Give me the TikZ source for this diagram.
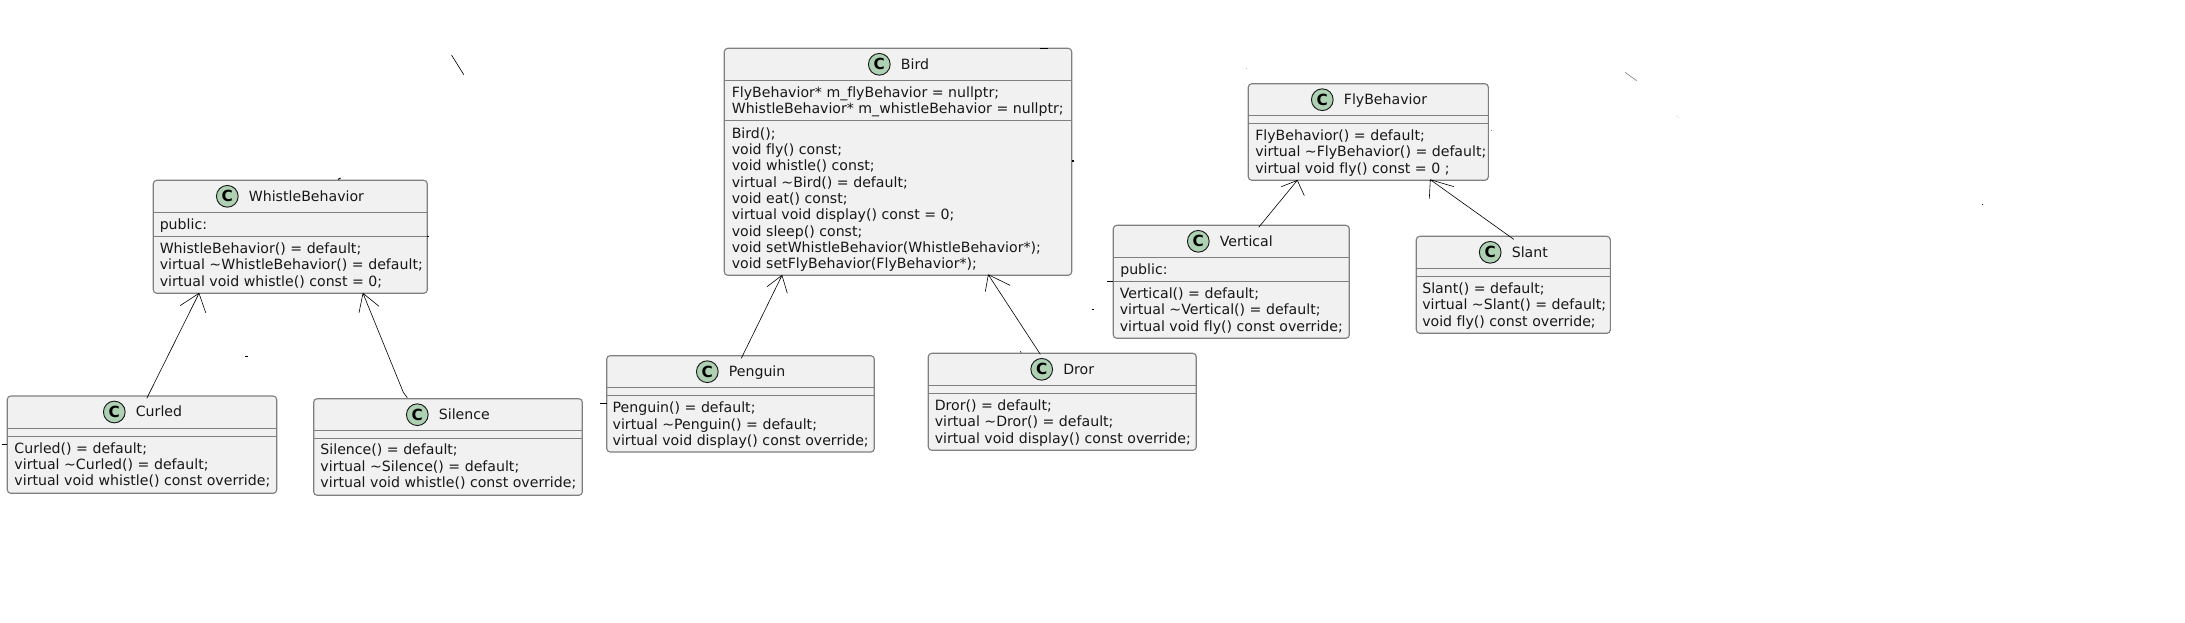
\documentclass[tikz,border=0pt]{standalone}
\usepackage{fontspec}
\setmainfont[Ligatures=NoCommon]{DejaVu Sans}
\definecolor{boxfill}{HTML}{F1F1F1}
\definecolor{boxline}{HTML}{7F7F7F}
\definecolor{spot}{HTML}{ADD1B2}
\definecolor{ink}{HTML}{181818}
\newcommand{\mstrut}{\rule{0pt}{10pt}}
\tikzset{
 x=0.75pt,y=-0.75pt,
 umlbox/.style={draw=boxline,fill=boxfill,line width=0.85pt,rounded corners=2.6pt,outer sep=0pt,inner sep=0pt,anchor=north west},
 sepline/.style={draw=boxline,line width=0.8pt},
 spotc/.style={circle,draw=ink,fill=spot,line width=0.7pt,minimum size=16.3pt,inner sep=0pt,font=\fontsize{11.5pt}{12pt}\selectfont\bfseries},
 ttl/.style={anchor=base west,inner sep=0pt,text=ink,font=\fontsize{10.6pt}{12pt}\selectfont},
 mem/.style={anchor=north west,align=left,inner sep=0pt,text=ink,font=\fontsize{10.6pt}{12.22pt}\selectfont},
 rel/.style={draw=black,line width=0.45pt},
 bit/.style={draw=black,line width=0.45pt},
}
% name x1 y1 x2 y2 line1 line2 spotx title
\newcommand{\umlclass}[9]{%
 \node[umlbox,minimum width={(#4-#2)*0.75pt},minimum height={(#5-#3)*0.75pt}] (#1) at (#2,#3) {};
 \draw[sepline] (#2,#6) -- (#4,#6);
 \draw[sepline] (#2,#7) -- (#4,#7);
 \node[spotc] (#1s) at (#8,{#3+16}) {C};
 \node[ttl] (#1t) at ({#8+21.3},{#3+20.8}) {#9};
}
% name x y text
\newcommand{\umlmem}[4]{\node[mem] (#1) at (#2,#3) {#4};}
\newcommand{\tld}{\textasciitilde}
\begin{document}
\begin{tikzpicture}
\useasboundingbox (0,0) rectangle (2185,622);
\umlclass{wb}{153.3}{180.3}{427.3}{293.3}{212.3}{236.3}{227.3}{WhistleBehavior}
\umlmem{wbf}{159.5}{216}{\mstrut public:}
\umlmem{wbm}{159.5}{240}{\mstrut WhistleBehavior() = default;\\virtual \tld WhistleBehavior() = default;\\virtual void whistle() const = 0;}
\umlclass{curled}{7.3}{396}{276.7}{493.3}{428.3}{436.3}{114.3}{Curled}
\umlmem{curledm}{14.2}{439.7}{\mstrut Curled() = default;\\virtual \tld Curled() = default;\\virtual void whistle() const override;}
\umlclass{silence}{313.7}{398.7}{582.3}{495.3}{430.3}{438.3}{417.3}{Silence}
\umlmem{silencem}{320.2}{441.2}{\mstrut Silence() = default;\\virtual \tld Silence() = default;\\virtual void whistle() const override;}
\umlclass{bird}{724.3}{48.3}{1071.7}{275.3}{80.7}{120.3}{879.3}{Bird}
\umlmem{birdf}{731.5}{84}{\mstrut FlyBehavior* m\_flyBehavior = nullptr;\\WhistleBehavior* m\_whistleBehavior = nullptr;}
\umlmem{birdm}{731.5}{124.7}{\mstrut Bird();\\void fly() const;\\void whistle() const;\\virtual \tld Bird() = default;\\void eat() const;\\virtual void display() const = 0;\\void sleep() const;\\void setWhistleBehavior(WhistleBehavior*);\\void setFlyBehavior(FlyBehavior*);}
\umlclass{penguin}{606.7}{355.7}{874.3}{452}{387.3}{395.7}{707.3}{Penguin}
\umlmem{penguinm}{612.4}{399.2}{\mstrut Penguin() = default;\\virtual \tld Penguin() = default;\\virtual void display() const override;}
\umlclass{dror}{928.3}{353.3}{1196.3}{450.3}{385.7}{393.3}{1041.7}{Dror}
\umlmem{drorm}{934.5}{397}{\mstrut Dror() = default;\\virtual \tld Dror() = default;\\virtual void display() const override;}
\umlclass{fly}{1248.3}{83.7}{1488.3}{180.3}{115.3}{123.3}{1322.3}{FlyBehavior}
\umlmem{flym}{1255}{127}{\mstrut FlyBehavior() = default;\\virtual \tld FlyBehavior() = default;\\virtual void fly() const = 0 ;}
\umlclass{vert}{1113.3}{225.3}{1349.3}{338.3}{257.3}{281.3}{1198.3}{Vertical}
\umlmem{vertf}{1120}{260.7}{\mstrut public:}
\umlmem{vertm}{1119.5}{285}{\mstrut Vertical() = default;\\virtual \tld Vertical() = default;\\virtual void fly() const override;}
\umlclass{slant}{1416.3}{236.3}{1610.3}{333.3}{268.3}{276.3}{1490.2}{Slant}
\umlmem{slantm}{1422}{280}{\mstrut Slant() = default;\\virtual \tld Slant() = default;\\void fly() const override;}
% inheritance connectors with open arrowheads
\draw[rel] ([xshift=139.5*.75pt,yshift=-2.3*.75pt]curled.north west) -- ([xshift=45.7*.75pt]wb.south west) coordinate (t1) ++(-19,12.4) -- (t1) -- ++(6.7,19.4);
\draw[rel] ([xshift=93.6*.75pt,yshift=1*.75pt]silence.north west) -- ([xshift=89.6*.75pt,yshift=6.4*.75pt]silence.north west) -- ([xshift=209.7*.75pt]wb.south west) coordinate (t2) ++(-4,19.4) -- (t2) -- ++(16,13);
\draw[rel] ([xshift=134.6*.75pt,yshift=-2.6*.75pt]penguin.north west) -- ([xshift=57.7*.75pt]bird.south west) coordinate (t3) ++(-15,11.4) -- (t3) -- ++(5.3,18);
\draw[rel] ([xshift=112*.75pt,yshift=-1*.75pt]dror.north west) -- ([xshift=264*.75pt,yshift=.6*.75pt]bird.south west) coordinate (t4) ++(-3,17) -- (t4) -- ++(21.7,10.6);
\draw[rel] ([xshift=145.4*.75pt,yshift=-2*.75pt]vert.north west) -- ([xshift=49*.75pt]fly.south west) coordinate (t5) ++(-16,6.4) -- (t5) -- ++(7,15.4);
\draw[rel] ([xshift=97.4*.75pt,yshift=-3*.75pt]slant.north west) -- ([xshift=182*.75pt,yshift=.6*.75pt]fly.south west) coordinate (t6) ++(-1,19) -- (t6) -- ++(23.7,7);
% stray marks
\draw[bit] (451.5,55) -- (463.8,74.7);
\draw[bit,line width=.8pt] (338,179.3) -- (340.5,178.2);
\draw[bit,line width=.8pt] (427.3,236.3) -- (429,236.3);
\draw[bit] (245,356.3) -- (248,356.3);
\draw[bit] (2.3,444.3) -- (7.3,444.3);
\draw[bit,line width=.6pt] (1039.5,48) -- (1048,48);
\draw[bit,line width=.8pt] (1071.7,161) -- (1073.7,161);
\draw[bit] (1107.3,281.3) -- (1113.3,281.3);
\draw[bit] (1092,309.3) -- (1094,309.3);
\draw[bit] (600.3,403) -- (606.7,403);
\draw[bit] (1020,351.3) -- (1021.3,352.5);
\draw[bit,gray!50] (1246,68.3) -- (1247,68.3);
\draw[bit,gray] (1488.3,130.3) -- (1489.3,130.3);
\draw[bit,gray] (1491,129.8) -- (1491.8,129.8);
\draw[bit,gray] (1625,72.3) -- (1636.7,80.7);
\draw[bit] (1982,204.3) -- (1983,204.3);
\draw[bit,gray!25] (1676,115) -- (1679,118);
\draw[bit,gray] (1483.5,235.8) -- (1484.5,235.8);
\end{tikzpicture}
\end{document}
